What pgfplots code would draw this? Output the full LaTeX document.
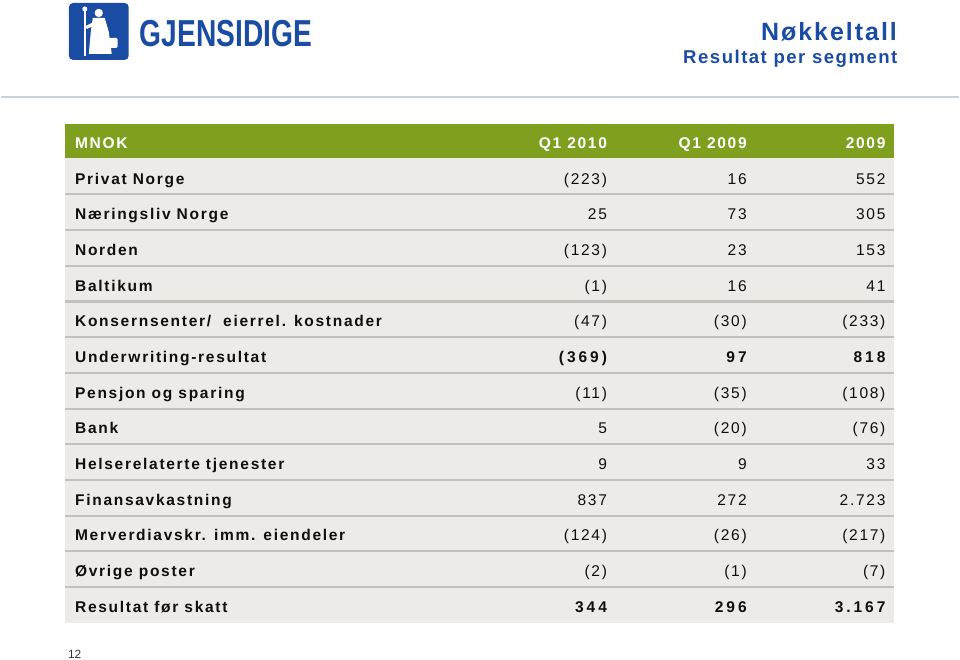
\documentclass[border=0pt]{standalone}
\usepackage{pgfplots}
\pgfplotsset{compat=1.18}
\usepackage{pgfplotstable}
\usepackage{fontspec}
\setmainfont{Liberation Sans}
\newfontfamily\lblfont{Liberation Sans}[LetterSpace=11]
\newfontfamily\valfont{Liberation Sans}[LetterSpace=11]
\newfontfamily\boldvalfam{Liberation Sans}[LetterSpace=19]
\newfontfamily\ttlfont{Liberation Sans}[LetterSpace=8]

\definecolor{hdrgreen}{RGB}{127,160,30}
\definecolor{rowgray}{RGB}{237,235,232}
\definecolor{sepgray}{RGB}{196,192,188}
\definecolor{gblue}{RGB}{27,76,164}
\definecolor{txt}{RGB}{15,15,15}
\definecolor{rulecol}{RGB}{200,210,222}

% MNOK, negatives shown in brackets
\pgfplotstableread{
row q110 q109 y09
1  -223  16   552
2  25    73   305
3  -123  23   153
4  -1    16   41
5  -47   -30  -233
6  -369  97   818
7  -11   -35  -108
8  5     -20  -76
9  9     9    33
10 837   272  2723
11 -124  -26  -217
12 -2    -1   -7
13 344   296  3167
}\res

\newcommand\acc[1]{%
  \pgfmathtruncatemacro\absv{abs(#1)}%
  \ifdim#1pt<0pt (\pgfmathprintnumber[int detect,1000 sep={.},assume math mode=true]{\absv})%
  \else\pgfmathprintnumber[int detect,1000 sep={.},assume math mode=true]{\absv}\fi}

\newcommand\rowfont{%
  \ifdim\rowid pt=6pt \boldvalfam\bfseries\fi
  \ifdim\rowid pt=13pt \boldvalfam\bfseries\fi}

\pgfplotsset{valcol/.style={
  draw=none, mark=none,
  visualization depends on={\thisrow{#1}\as\val},
  visualization depends on={\thisrow{row}\as\rowid},
  nodes near coords={\rowfont\acc{\val}},
  every node near coord/.append style={anchor=base east, inner sep=0pt, yshift=-5.4pt,
    text=txt, font=\valfont\fontsize{11.2}{13}\selectfont},
}}

\begin{document}
\begin{tikzpicture}
% page furniture, in pixel units from the top-left corner
\begin{scope}[x=0.72pt, y=-0.72pt, yshift=475.92pt]
\fill[hdrgreen] (64,124) rectangle (895,158.6);
\fill[rowgray] (64,158.6) rectangle (895,624);
\foreach \k in {1,...,12}
  \draw[sepgray, line width=1.5pt] (64,{159+35.77*\k}) -- (895,{159+35.77*\k});

\begin{scope}[every node/.style={inner sep=0pt, text=white, font=\lblfont\bfseries\fontsize{11.2}{13}\selectfont}]
\node[anchor=base west] at (74,148.5) {MNOK};
\node[anchor=base east] at (607.5,148.5) {Q1 2010};
\node[anchor=base east] at (747.5,148.5) {Q1 2009};
\node[anchor=base east] at (886.5,148.5) {2009};
\end{scope}

\node[anchor=base east, inner sep=0pt, text=gblue, font=\ttlfont\bfseries\fontsize{18}{20}\selectfont]
  at (898,41) {Nøkkeltall};
\node[anchor=base east, inner sep=0pt, text=gblue, font=\ttlfont\bfseries\fontsize{13.4}{15}\selectfont]
  at (898.5,63.5) {Resultat per segment};
\draw[rulecol, line width=1.4pt] (0,97) -- (960,97);

\fill[gblue, rounded corners=3pt] (68,3) rectangle (128,60);
\draw[white, line width=1.3pt] (84,9) -- (84,56);
\fill[white] (84,9) circle[radius=1.8pt];
\fill[white] (98,13) circle[radius=3pt];
\fill[white] (92,18) -- (104,18) -- (108,32) -- (111,54) -- (88,54) -- (90,32) -- cycle;
\fill[white] (85,26) -- (93,22) -- (93,26) -- (86,29) -- cycle;
\fill[white, rounded corners=1pt] (107,38) rectangle (117,48);
\node[anchor=base west, inner sep=0pt, text=gblue] at (139,47)
  {\scalebox{0.75}[1]{\fontsize{27.1}{28}\bfseries\selectfont GJENSIDIGE}};

\node[anchor=base west, inner sep=0pt, text=txt!85, font=\fontsize{8.6}{10}\selectfont]
  at (67,660) {12};
\end{scope}

\begin{axis}[
  at={(0,0)}, anchor=south west,
  scale only axis, width=691.2pt, height=475.92pt,
  xmin=0, xmax=960, ymin=0, ymax=661, y dir=reverse,
  axis line style={draw=none}, major tick length=0pt,
  ytick style={draw=none}, xtick=\empty,
  clip=false,
  ytick={176.89,212.66,248.43,284.2,319.97,355.73,391.5,427.27,463.04,498.81,534.58,570.35,606.12},
  yticklabels={Privat Norge, Næringsliv Norge, Norden, Baltikum,
    Konsernsenter/\ \ eierrel. kostnader, Underwriting-resultat, Pensjon og sparing,
    Bank, Helserelaterte tjenester, Finansavkastning, Merverdiavskr. imm. eiendeler,
    Øvrige poster, Resultat før skatt},
  yticklabel style={anchor=base west, inner sep=0pt, xshift=53.28pt, yshift=-5.4pt,
    text=txt, font=\lblfont\bfseries\fontsize{11.2}{13}\selectfont},
]
\addplot[valcol=q110] table[x expr=607.5, y expr=159+35.77*(\thisrow{row}-0.5)] {\res};
\addplot[valcol=q109] table[x expr=747.5, y expr=159+35.77*(\thisrow{row}-0.5)] {\res};
\addplot[valcol=y09]  table[x expr=886.5, y expr=159+35.77*(\thisrow{row}-0.5)] {\res};
\end{axis}
\end{tikzpicture}
\end{document}
